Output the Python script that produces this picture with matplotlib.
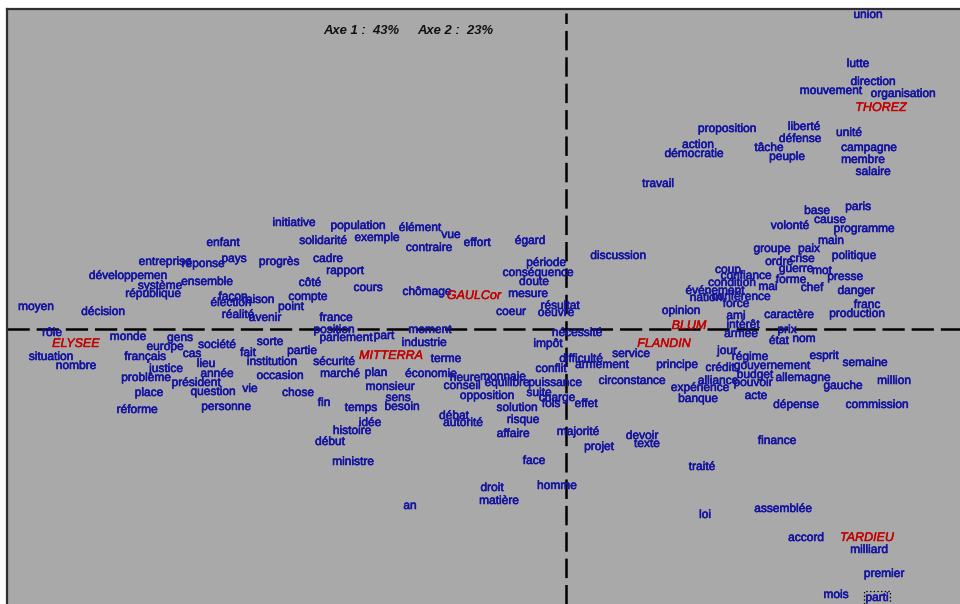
import matplotlib
matplotlib.use("Agg")
import matplotlib.pyplot as plt
import matplotlib.patheffects as pe

plt.rcParams['font.family'] = ['Liberation Sans', 'DejaVu Sans']
plt.rcParams['lines.scale_dashes'] = False

# Correspondence analysis: word coordinates on factors 1 and 2
words = [
    "union", "lutte", "direction", "mouvement", "organisation", "liberté", "défense",
    "unité", "tâche", "peuple", "campagne", "membre", "salaire", "proposition",
    "action", "démocratie", "travail", "base", "paris", "cause", "volonté",
    "programme", "main", "groupe", "paix", "politique", "ordre", "crise", "guerre",
    "mot", "presse", "forme", "chef", "danger", "franc", "production", "caractère",
    "prix", "état", "nom", "esprit", "semaine", "allemagne", "gauche", "million",
    "dépense", "commission", "coup", "confiance", "condition", "mai", "événement",
    "nation", "conférence", "force", "opinion", "ami", "intérêt", "armée", "jour",
    "régime", "service", "principe", "crédit", "gouvernement", "budget", "alliance",
    "pouvoir", "circonstance", "expérience", "banque", "acte", "égard", "discussion",
    "période", "conséquence", "doute", "mesure", "résultat", "oeuvre", "coeur",
    "nécessité", "impôt", "difficulté", "armement", "conflit", "monnaie", "équilibre",
    "puissance", "opposition", "suite", "charge", "fois", "effet", "solution",
    "risque", "affaire", "majorité", "projet", "devoir", "texte", "face", "traité",
    "droit", "homme", "matière", "loi", "finance", "assemblée", "accord", "milliard",
    "premier", "mois", "parti", "fin", "temps", "besoin", "sens", "idée", "histoire",
    "début", "ministre", "débat", "autorité", "an", "initiative", "population",
    "élément", "vue", "effort", "solidarité", "exemple", "contraire", "progrès",
    "pays", "cadre", "rapport", "côté", "cours", "chômage", "raison", "compte",
    "point", "avenir", "france", "position", "parlement", "part", "moment",
    "industrie", "sorte", "partie", "fait", "institution", "sécurité", "terme",
    "occasion", "marché", "plan", "économie", "heure", "conseil", "vie", "chose",
    "monsieur", "enfant", "entreprise", "réponse", "développemen", "système",
    "ensemble", "république", "façon", "élection", "moyen", "décision", "réalité",
    "rôle", "situation", "nombre", "monde", "gens", "europe", "société", "cas",
    "français", "lieu", "justice", "problème", "année", "président", "question",
    "place", "réforme", "personne",
]
word_f1 = [
    3.02, 2.92, 3.07, 2.65, 3.37, 2.38, 2.34,
    2.83, 2.03, 2.21, 3.03, 2.97, 3.07, 1.61,
    1.32, 1.28, 0.92, 2.51, 2.92, 2.64, 2.24,
    2.98, 2.65, 2.06, 2.43, 2.88, 2.13, 2.36, 2.30,
    2.56, 2.79, 2.25, 2.46, 2.90, 3.01, 2.91, 2.23,
    2.21, 2.13, 2.38, 2.58, 2.99, 2.37, 2.77, 3.28,
    2.30, 3.11, 1.62, 1.80, 1.66, 2.02, 1.49,
    1.40, 1.75, 1.70, 1.15, 1.70, 1.77, 1.75, 1.61,
    1.84, 0.65, 1.11, 1.54, 2.06, 1.89, 1.52,
    1.87, 0.66, 1.34, 1.32, 1.90, -0.36, 0.52,
    -0.20, -0.28, -0.32, -0.38, -0.06, -0.10, -0.55,
    0.11, -0.18, 0.15, 0.36, -0.15, -0.63, -0.59,
    -0.11, -0.79, -0.27, -0.09, -0.15, 0.20, -0.49,
    -0.43, -0.53, 0.12, 0.33, 0.76, 0.81, -0.32, 1.36,
    -0.74, -0.09, -0.67, 1.39, 2.11, 2.17, 2.40, 3.03,
    3.18, 2.70, 3.11, -2.42, -2.05, -1.64, -1.68, -1.96, -2.14,
    -2.36, -2.13, -1.12, -1.03, -1.56, -2.72, -2.08,
    -1.46, -1.15, -0.89, -2.43, -1.89, -1.37, -2.87,
    -3.32, -2.38, -2.21, -2.56, -1.98, -1.39, -3.08, -2.58,
    -2.75, -3.01, -2.30, -2.32, -2.20, -1.82, -1.36,
    -1.42, -2.96, -2.64, -3.18, -2.94, -2.32, -1.20,
    -2.86, -2.26, -1.90, -1.35, -1.01, -1.04, -3.16, -2.68,
    -1.76, -3.43, -4.01, -3.63, -4.38, -4.06,
    -3.59, -4.13, -3.33, -3.35, -5.30, -4.63, -3.28,
    -5.14, -5.15, -4.90, -4.38, -3.86, -4.01, -3.49, -3.74,
    -4.21, -3.60, -4.00, -4.20, -3.49, -3.70, -3.53,
    -4.17, -4.29, -3.40,
]
word_f2 = [
    3.14, 2.65, 2.47, 2.38, 2.35, 2.02, 1.90,
    1.96, 1.81, 1.72, 1.81, 1.69, 1.57, 2.00,
    1.84, 1.75, 1.45, 1.18, 1.22, 1.09, 1.03,
    1.00, 0.88, 0.80, 0.80, 0.73, 0.67, 0.70, 0.60,
    0.58, 0.52, 0.49, 0.41, 0.38, 0.24, 0.15, 0.14,
    -0.01, -0.12, -0.10, -0.27, -0.34, -0.49, -0.57, -0.52,
    -0.76, -0.76, 0.59, 0.53, 0.46, 0.42, 0.38,
    0.31, 0.32, 0.25, 0.18, 0.13, 0.04, -0.05, -0.22,
    -0.28, -0.25, -0.36, -0.39, -0.37, -0.46, -0.52,
    -0.54, -0.52, -0.59, -0.70, -0.67, 0.88, 0.73,
    0.66, 0.56, 0.47, 0.35, 0.23, 0.16, 0.17,
    -0.04, -0.15, -0.30, -0.36, -0.40, -0.48, -0.54,
    -0.54, -0.67, -0.64, -0.69, -0.75, -0.75, -0.79,
    -0.91, -1.05, -1.03, -1.18, -1.07, -1.15, -1.32, -1.38,
    -1.59, -1.57, -1.72, -1.86, -1.12, -1.80, -2.09, -2.21,
    -2.45, -2.66, -2.69, -0.74, -0.79, -0.78, -0.69, -0.94, -1.02,
    -1.13, -1.33, -0.87, -0.94, -1.77, 1.06, 1.03,
    1.01, 0.94, 0.86, 0.88, 0.91, 0.81, 0.67,
    0.70, 0.70, 0.58, 0.46, 0.41, 0.37, 0.29, 0.32,
    0.22, 0.11, 0.11, -0.01, -0.09, -0.07, -0.01,
    -0.14, -0.13, -0.22, -0.24, -0.33, -0.33, -0.30,
    -0.47, -0.45, -0.44, -0.45, -0.49, -0.57, -0.60, -0.64,
    -0.58, 0.86, 0.67, 0.65, 0.53, 0.43,
    0.47, 0.35, 0.32, 0.26, 0.22, 0.17, 0.14,
    -0.04, -0.28, -0.37, -0.08, -0.09, -0.18, -0.16, -0.25,
    -0.28, -0.35, -0.40, -0.49, -0.45, -0.54, -0.63,
    -0.64, -0.81, -0.78,
]

# Speakers (supplementary points)
speakers = ["THOREZ", "GAULCor", "BLUM", "FLANDIN", "MITTERRA", "ELYSEE", "TARDIEU"]
speaker_f1 = [3.15, -0.92, 1.23, 0.98, -1.75, -4.90, 3.01]
speaker_f2 = [2.21, 0.33, 0.03, -0.15, -0.27, -0.15, -2.09]

inertia_labels = ["Axe 1 :  43%", "Axe 2 :  23%"]

BG = "#a9a9a9"
WORD_COLOR = "#1414a0"
SPEAKER_COLOR = "#c40000"

fig = plt.figure(figsize=(9.6, 6.04), dpi=100)
fig.patch.set_facecolor("white")
ax = fig.add_axes([7 / 960, 0, 953 / 960, 595 / 604])
ax.set_facecolor(BG)
ax.set_xlim(-5.59, 3.94)
ax.set_ylim(-2.75, 3.20)
ax.set_xticks([])
ax.set_yticks([])
for side in ("right", "bottom"):
    ax.spines[side].set_visible(False)
for side in ("left", "top"):
    ax.spines[side].set_color("#303030")
    ax.spines[side].set_linewidth(1.6)

# Axis lines through the origin
ax.axhline(0, color="black", lw=1.8, dashes=(16, 5), zorder=1)
ax.plot([0, 0], [-2.75, 3.16], color="black", lw=1.8, dashes=(14, 5), zorder=1)

word_fx = [pe.withStroke(linewidth=0.4, foreground=WORD_COLOR)]
for w, x, y in zip(words, word_f1, word_f2):
    kw = {}
    if w == "parti":
        kw["bbox"] = dict(boxstyle="square,pad=0.12", fc="none", ec="black",
                          ls=":", lw=0.9)
    ax.text(x, y, w, color=WORD_COLOR, fontsize=8.6, ha="center", va="center",
            zorder=3, path_effects=word_fx, **kw)

sp_fx = [pe.withStroke(linewidth=0.3, foreground=SPEAKER_COLOR)]
for s, x, y in zip(speakers, speaker_f1, speaker_f2):
    ax.text(x, y, s, color=SPEAKER_COLOR, fontsize=9, style="italic",
            ha="center", va="center", zorder=4, path_effects=sp_fx)

fig.text(323 / 960, 1 - 31 / 604, inertia_labels[0], fontsize=9.4,
         style="italic", weight="bold", color="#111111", va="center", ha="left")
fig.text(417 / 960, 1 - 31 / 604, inertia_labels[1], fontsize=9.4,
         style="italic", weight="bold", color="#111111", va="center", ha="left")

fig.savefig("out.png", dpi=100, facecolor=fig.get_facecolor())
